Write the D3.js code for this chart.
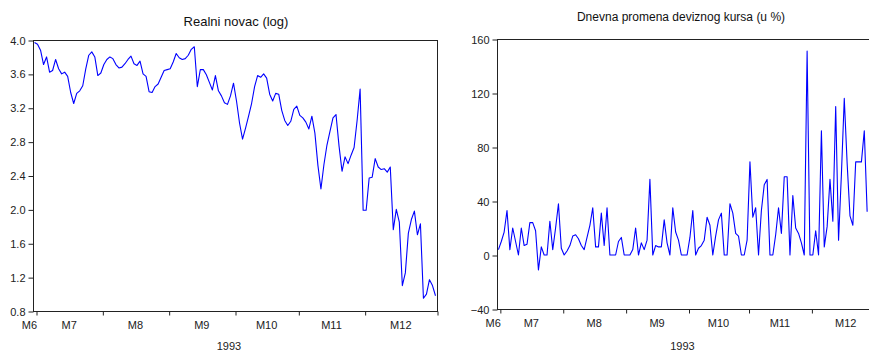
<!DOCTYPE html>
<html>
<head>
<meta charset="utf-8">
<script src="https://cdn.jsdelivr.net/npm/d3@7"></script>
<style>
  body { margin: 0; background: #fff; }
  svg { display: block; font-family: "Liberation Sans", Arial, sans-serif; }
</style>
</head>
<body>
<svg id="charts" width="869" height="353"></svg>
<script>
// business-day index of each month boundary (Jun/Jul ... Dec/end)
var monthBreaks = [1, 23, 45, 67, 88, 110, 134];
var monthLabels = ["M6", "M7", "M8", "M9", "M10", "M11", "M12"];
var yearLabel = "1993";

// Realni novac (log), one value per business day
var money = [
  3.97, 3.95, 3.88, 3.71, 3.80, 3.62, 3.64, 3.77, 3.66, 3.60,
  3.62, 3.57, 3.38, 3.25, 3.37, 3.40, 3.46, 3.66, 3.82, 3.86,
  3.80, 3.58, 3.61, 3.71, 3.77, 3.80, 3.78, 3.71, 3.67, 3.68,
  3.72, 3.77, 3.81, 3.72, 3.70, 3.75, 3.60, 3.57, 3.39, 3.38,
  3.45, 3.48, 3.56, 3.64, 3.65, 3.66, 3.74, 3.84, 3.79, 3.77,
  3.78, 3.82, 3.89, 3.92, 3.45, 3.65, 3.65, 3.59, 3.50, 3.41,
  3.58, 3.40, 3.34, 3.26, 3.24, 3.34, 3.49, 3.28, 3.02, 2.83,
  2.96, 3.10, 3.25, 3.45, 3.58, 3.56, 3.60, 3.55, 3.36, 3.28,
  3.37, 3.36, 3.17, 3.05, 2.99, 3.04, 3.18, 3.22, 3.11, 3.08,
  3.03, 2.95, 3.10, 2.90, 2.52, 2.24, 2.53, 2.76, 2.92, 3.08,
  3.12, 2.75, 2.45, 2.62, 2.54, 2.64, 2.73, 3.05, 3.42, 1.99,
  1.99, 2.37, 2.38, 2.60, 2.50, 2.47, 2.48, 2.44, 2.50, 1.76,
  2.00, 1.85, 1.10, 1.25, 1.72, 1.88, 1.98, 1.70, 1.83, 0.95,
  1.00, 1.17, 1.10, 0.98
];

// Dnevna promena deviznog kursa (u %)
var fxChange = [
  4, 10, 17, 33, 4, 20, 10, 0, 20, 7,
  8, 24, 24, 18, -11, 6, 0, 0, 25, 4,
  20, 38, 5, 0, 3, 7, 14, 15, 12, 7,
  4, 13, 22, 35, 6, 6, 31, 7, 35, 0,
  0, 0, 10, 13, 0, 0, 0, 4, 20, 0,
  9, 4, 11, 56, 0, 7, 6, 6, 26, 9,
  0, 35, 17, 11, 0, 0, 0, 13, 33, 0,
  5, 7, 11, 28, 22, 0, 14, 26, 31, 0,
  0, 38, 31, 16, 14, 0, 0, 11, 69, 28,
  35, 0, 33, 52, 56, 0, 0, 15, 35, 16,
  58, 58, 0, 44, 20, 16, 9, 0, 151, 0,
  0, 18, 0, 92, 6, 21, 56, 25, 110, 11,
  60, 116, 68, 29, 22, 69, 69, 69, 92, 32
];

var moneyTicks = [0.8, 1.2, 1.6, 2.0, 2.4, 2.8, 3.2, 3.6, 4.0];
var fxTicks = [-40, 0, 40, 80, 120, 160];

var svg = d3.select("#charts");

var drawPanel = function(opts) {
  var x = d3.scaleLinear().domain([0, 134]).range([opts.left, opts.right]);
  var y = d3.scaleLinear().domain(opts.yDomain).range([opts.bottom, opts.top]);
  var g = svg.append("g");

  // frame
  g.append("rect")
    .attr("x", opts.left + 0.5)
    .attr("y", opts.top + 0.5)
    .attr("width", opts.right - opts.left)
    .attr("height", opts.bottom - opts.top)
    .attr("fill", "none")
    .attr("stroke", "#222")
    .attr("stroke-width", 1);

  // y axis
  var yAxis = g.append("g")
    .attr("transform", "translate(" + (opts.left + 0.5) + ",0.5)")
    .call(d3.axisLeft(y).tickValues(opts.yTicks).tickSize(5).tickPadding(3)
      .tickFormat(opts.yFormat));
  yAxis.select(".domain").remove();
  yAxis.selectAll("line").attr("stroke", "#222");
  yAxis.selectAll("text").attr("font-size", 11).attr("fill", "#222")
    .attr("font-family", "Liberation Sans, Arial, sans-serif");

  // x axis: ticks at month boundaries, labels between them
  var xAxis = g.append("g")
    .attr("transform", "translate(0.5," + (opts.bottom + 0.5) + ")")
    .call(d3.axisBottom(x).tickValues(monthBreaks).tickSize(4).tickFormat(""));
  xAxis.select(".domain").remove();
  xAxis.selectAll("line").attr("stroke", "#222");

  g.selectAll(".mlabel")
    .data(monthLabels)
    .enter().append("text")
      .attr("class", "mlabel")
      .attr("x", function(d, i) {
        if (i === 0) return x(monthBreaks[0]) + 1;
        return (x(monthBreaks[i - 1]) + x(monthBreaks[i])) / 2;
      })
      .attr("y", opts.bottom + 18)
      .attr("text-anchor", function(d, i) { return i === 0 ? "end" : "middle"; })
      .attr("font-size", 11)
      .attr("fill", "#222")
      .text(function(d) { return d; });

  g.append("text")
    .attr("x", (opts.left + opts.right) / 2 - 6)
    .attr("y", opts.yearY)
    .attr("text-anchor", "middle")
    .attr("font-size", 11)
    .attr("fill", "#222")
    .text(yearLabel);

  // title
  g.append("text")
    .attr("x", opts.titleX)
    .attr("y", opts.titleY)
    .attr("text-anchor", "middle")
    .attr("font-size", opts.titleSize)
    .attr("fill", "#111")
    .text(opts.title);

  // series
  var line = d3.line()
    .x(function(d, i) { return x(i + 0.5); })
    .y(function(d) { return y(d); });

  g.append("path")
    .datum(opts.values)
    .attr("d", line)
    .attr("fill", "none")
    .attr("stroke", "#0000ff")
    .attr("stroke-width", 1.1)
    .attr("stroke-linejoin", "round");
};

drawPanel({
  left: 33, right: 437, top: 40, bottom: 311,
  yDomain: [0.8, 4.0], yTicks: moneyTicks, yFormat: d3.format(".1f"),
  values: money, yearY: 350,
  title: "Realni novac (log)", titleX: 236, titleY: 26, titleSize: 13
});

drawPanel({
  left: 497, right: 880, top: 39, bottom: 309,
  yDomain: [-40, 160], yTicks: fxTicks, yFormat: d3.format("d"),
  values: fxChange, yearY: 350,
  title: "Dnevna promena deviznog kursa (u %)", titleX: 681, titleY: 21, titleSize: 12
});
</script>
</body>
</html>
